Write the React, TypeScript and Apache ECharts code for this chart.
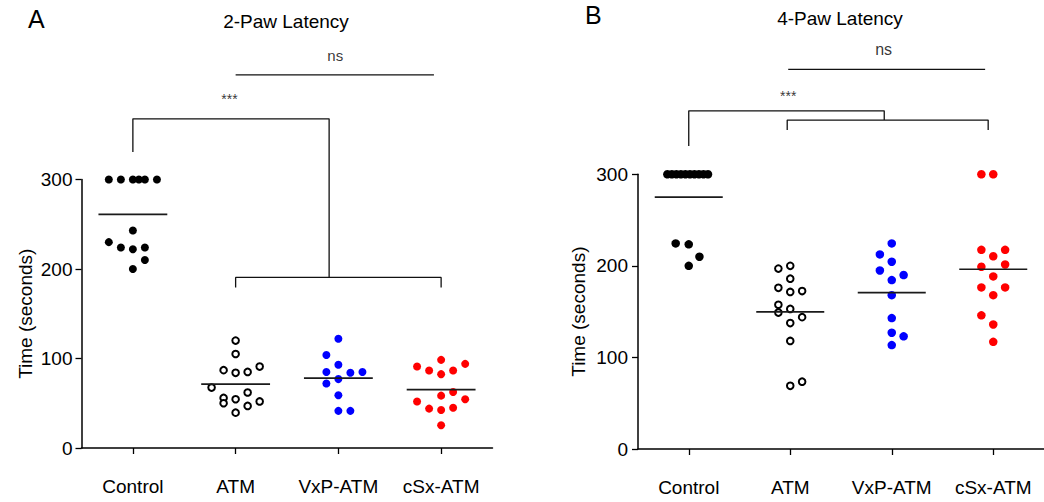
import React, { useEffect, useRef } from "react";
import * as echarts from "echarts";

const categories = ["Control", "ATM", "VxP-ATM", "cSx-ATM"];
const yTicks = [0, 100, 200, 300];

// Panel A – 2-Paw latency (seconds) with horizontal jitter columns
const twoPawControl = [300, 300, 300, 300, 300, 300, 243, 230, 224, 222, 224, 210, 200];
const twoPawControlCol = [-2, -1, 0, 0.5, 1, 2, 0, -2, -1, 0, 1, 1, 0];
const twoPawAtm = [120, 105, 87, 84, 85, 91, 67.5, 62, 56, 50, 54.5, 52, 47, 39.5];
const twoPawAtmCol = [0, 0, -1, 0, 1, 2, -2, 1, -1, -1, 0, 2, 1, 0];
const twoPawVxp = [122, 104, 93, 85, 84, 85, 77, 72, 59, 41.5, 41.5];
const twoPawVxpCol = [0, -1, 0, -1, 1, 2, 0, -1, 0, 0, 1];
const twoPawCsx = [98.5, 91, 86.5, 82.5, 86.5, 94, 58.5, 62.5, 52, 54.5, 44, 42.5, 45, 25.5];
const twoPawCsxCol = [0, -2, -1, 0, 1, 2, 0, 1, -2, 2, -1, 0, 1, 0];
const twoPawMeans = [261, 71.3, 78, 65.3];

// Panel B – 4-Paw latency (seconds)
const fourPawControl = [300, 300, 300, 300, 300, 300, 300, 300, 300, 300, 224.5, 223.5, 210, 200];
const fourPawControlCol = [-1.8, -1.42, -1.04, -0.66, -0.28, 0.1, 0.48, 0.86, 1.24, 1.62, -1.1, 0, 0.9, 0];
const fourPawAtm = [197, 200, 186, 176, 171.5, 172.5, 157.5, 149, 153, 144, 137.5, 118, 69, 73.5];
const fourPawAtmCol = [-1, 0, 0, -1, 0, 1, -1, -1, 0, 1, 0, 0, 0, 1];
const fourPawVxp = [224.5, 212.5, 204.5, 195, 190, 184.5, 168, 143, 127, 123, 113.5];
const fourPawVxpCol = [0, -1, 0, -1, 1, 0, 0, 0, 0, 1, 0];
const fourPawCsx = [300, 300, 217.5, 217.5, 210.5, 199, 201.5, 188.5, 176.5, 176.5, 168, 146, 136, 117];
const fourPawCsxCol = [-1, 0, -1, 1, 0, -1, 1, 0, -1, 1, 0, -1, 0, 0];
const fourPawMeans = [275, 149.7, 170.8, 196.3];

// significance annotations, in (category index, seconds)
const twoPawSigBracket = [[0, 330.6], [0, 367.8], [1.91, 367.8], [1.91, 190.6]];
const twoPawGroupBracket = [[1, 179.4], [1, 190.6], [3, 190.6], [3, 179.4]];
const twoPawNsLine = [[1, 417], [2.93, 417]];
const twoPawNotes = [
  { text: "ns", x: 1.97, y: 438.7 },
  { text: "***", x: 0.94, y: 390 },
];
const fourPawSigBracket = [[0, 330.8], [0, 369.3], [1.926, 369.3], [1.926, 359.2]];
const fourPawGroupBracket = [[0.97, 348.3], [0.97, 359.2], [2.95, 359.2], [2.95, 348.3]];
const fourPawNsLine = [[0.98, 414.5], [2.92, 414.5]];
const fourPawNotes = [
  { text: "ns", x: 1.92, y: 435.9 },
  { text: "***", x: 0.98, y: 385.7 },
];

const FONT = "'Liberation Sans', Arial, sans-serif";
const COL_STEP = 0.117;
const MEAN_HALF = 0.335;

type Group = { values: number[]; cols: number[]; color: string; open?: boolean };

function buildPanel(
  gi: number,
  groups: Group[],
  means: number[],
  brackets: number[][][],
  notes: { text: string; x: number; y: number }[],
  nsSize: number,
  dotSize: number
) {
  const xi = gi * 2 + 1;
  const series: any[] = [];
  groups.forEach((g, ci) => {
    series.push({
      type: "scatter",
      xAxisIndex: xi,
      yAxisIndex: gi,
      clip: false,
      silent: true,
      symbol: "circle",
      symbolSize: g.open ? 6.6 : dotSize,
      itemStyle: g.open
        ? { color: "#ffffff", borderColor: "#000000", borderWidth: 2, opacity: 1 }
        : { color: g.color, opacity: 1 },
      data: g.values.map((v, k) => [ci + g.cols[k] * COL_STEP, v]),
      z: 3,
    });
  });
  means.forEach((m, ci) => {
    series.push({
      type: "line",
      xAxisIndex: xi,
      yAxisIndex: gi,
      clip: false,
      silent: true,
      symbol: "none",
      lineStyle: { color: "#1a1a1a", width: 1.7 },
      data: [
        [ci - MEAN_HALF, m],
        [ci + MEAN_HALF, m],
      ],
      z: 4,
    });
  });
  brackets.forEach((b) => {
    series.push({
      type: "line",
      xAxisIndex: xi,
      yAxisIndex: gi,
      clip: false,
      silent: true,
      symbol: "none",
      lineStyle: { color: "#111", width: 1.3 },
      data: b,
    });
  });
  notes.forEach((n) => {
    series.push({
      type: "scatter",
      xAxisIndex: xi,
      yAxisIndex: gi,
      clip: false,
      silent: true,
      symbolSize: 1,
      itemStyle: { color: "rgba(0,0,0,0)" },
      label: {
        show: true,
        position: "inside",
        formatter: "{b}",
        color: "#000",
        fontFamily: FONT,
        fontSize: n.text === "ns" ? nsSize : 14,
      },
      data: [{ name: n.text, value: [n.x, n.y] }],
    });
  });
  return series;
}

function axesFor(gi: number, nameGap: number, labelMargin: number) {
  const cat = {
    type: "category",
    gridIndex: gi,
    data: categories,
    boundaryGap: true,
    axisLine: { show: true, onZero: false, lineStyle: { color: "#000", width: 1.5 } },
    axisTick: { show: true, alignWithLabel: true, length: 6, lineStyle: { color: "#000", width: 1.3 } },
    axisLabel: { color: "#000", fontSize: 19, fontFamily: FONT, margin: 29, interval: 0 },
    splitLine: { show: false },
  };
  const val = {
    type: "value",
    gridIndex: gi,
    min: -0.5,
    max: 3.5,
    show: false,
    axisLine: { onZero: false },
    splitLine: { show: false },
  };
  const y = {
    type: "value",
    gridIndex: gi,
    min: yTicks[0],
    max: yTicks[yTicks.length - 1],
    interval: 100,
    name: "Time (seconds)",
    nameLocation: "middle",
    nameRotate: 90,
    nameGap: nameGap,
    nameTextStyle: { color: "#000", fontSize: 19, fontFamily: FONT },
    axisLine: { show: true, onZero: false, lineStyle: { color: "#000", width: 1.5 } },
    axisTick: { show: true, length: 6, lineStyle: { color: "#000", width: 1.3 } },
    axisLabel: { color: "#000", fontSize: 19, fontFamily: FONT, margin: labelMargin },
    splitLine: { show: false },
  };
  return { cat, val, y };
}

export default function App() {
  const ref = useRef<HTMLDivElement>(null);
  useEffect(() => {
    const chart = echarts.init(ref.current!, null, { renderer: "svg" });
    const a = axesFor(0, 47, 9);
    const b = axesFor(1, 50, 10);
    const seriesA = buildPanel(
      0,
      [
        { values: twoPawControl, cols: twoPawControlCol, color: "#000000" },
        { values: twoPawAtm, cols: twoPawAtmCol, color: "#000000", open: true },
        { values: twoPawVxp, cols: twoPawVxpCol, color: "#0000ff" },
        { values: twoPawCsx, cols: twoPawCsxCol, color: "#ff0000" },
      ],
      twoPawMeans,
      [twoPawSigBracket, twoPawGroupBracket, twoPawNsLine],
      twoPawNotes,
      15,
      8
    );
    const seriesB = buildPanel(
      1,
      [
        { values: fourPawControl, cols: fourPawControlCol, color: "#000000" },
        { values: fourPawAtm, cols: fourPawAtmCol, color: "#000000", open: true },
        { values: fourPawVxp, cols: fourPawVxpCol, color: "#0000ff" },
        { values: fourPawCsx, cols: fourPawCsxCol, color: "#ff0000" },
      ],
      fourPawMeans,
      [fourPawSigBracket, fourPawGroupBracket, fourPawNsLine],
      fourPawNotes,
      16,
      8.5
    );
    chart.setOption({
      animation: false,
      backgroundColor: "#ffffff",
      textStyle: { fontFamily: FONT },
      grid: [
        { left: 81.5, top: 179.5, width: 411, height: 268.5 },
        { left: 638, top: 174.3, width: 410, height: 274.7 },
      ],
      xAxis: [a.cat, a.val, b.cat, b.val],
      yAxis: [a.y, b.y],
      graphic: [
        { type: "text", x: 28, y: 19, style: { text: "A", fontSize: 25, fontFamily: FONT, fill: "#000", textAlign: "left", textVerticalAlign: "middle" } },
        { type: "text", x: 286, y: 21.5, style: { text: "2-Paw Latency", fontSize: 19, fontFamily: FONT, fill: "#000", textAlign: "center", textVerticalAlign: "middle" } },
        { type: "text", x: 585, y: 14.5, style: { text: "B", fontSize: 25, fontFamily: FONT, fill: "#000", textAlign: "left", textVerticalAlign: "middle" } },
        { type: "text", x: 840, y: 18, style: { text: "4-Paw Latency", fontSize: 19, fontFamily: FONT, fill: "#000", textAlign: "center", textVerticalAlign: "middle" } },
      ],
      series: [...seriesA, ...seriesB],
    });
    return () => chart.dispose();
  }, []);
  return (
    <div
      ref={ref}
      style={{ position: "fixed", left: 0, top: 0, width: 1044, height: 502, background: "#fff" }}
    />
  );
}
